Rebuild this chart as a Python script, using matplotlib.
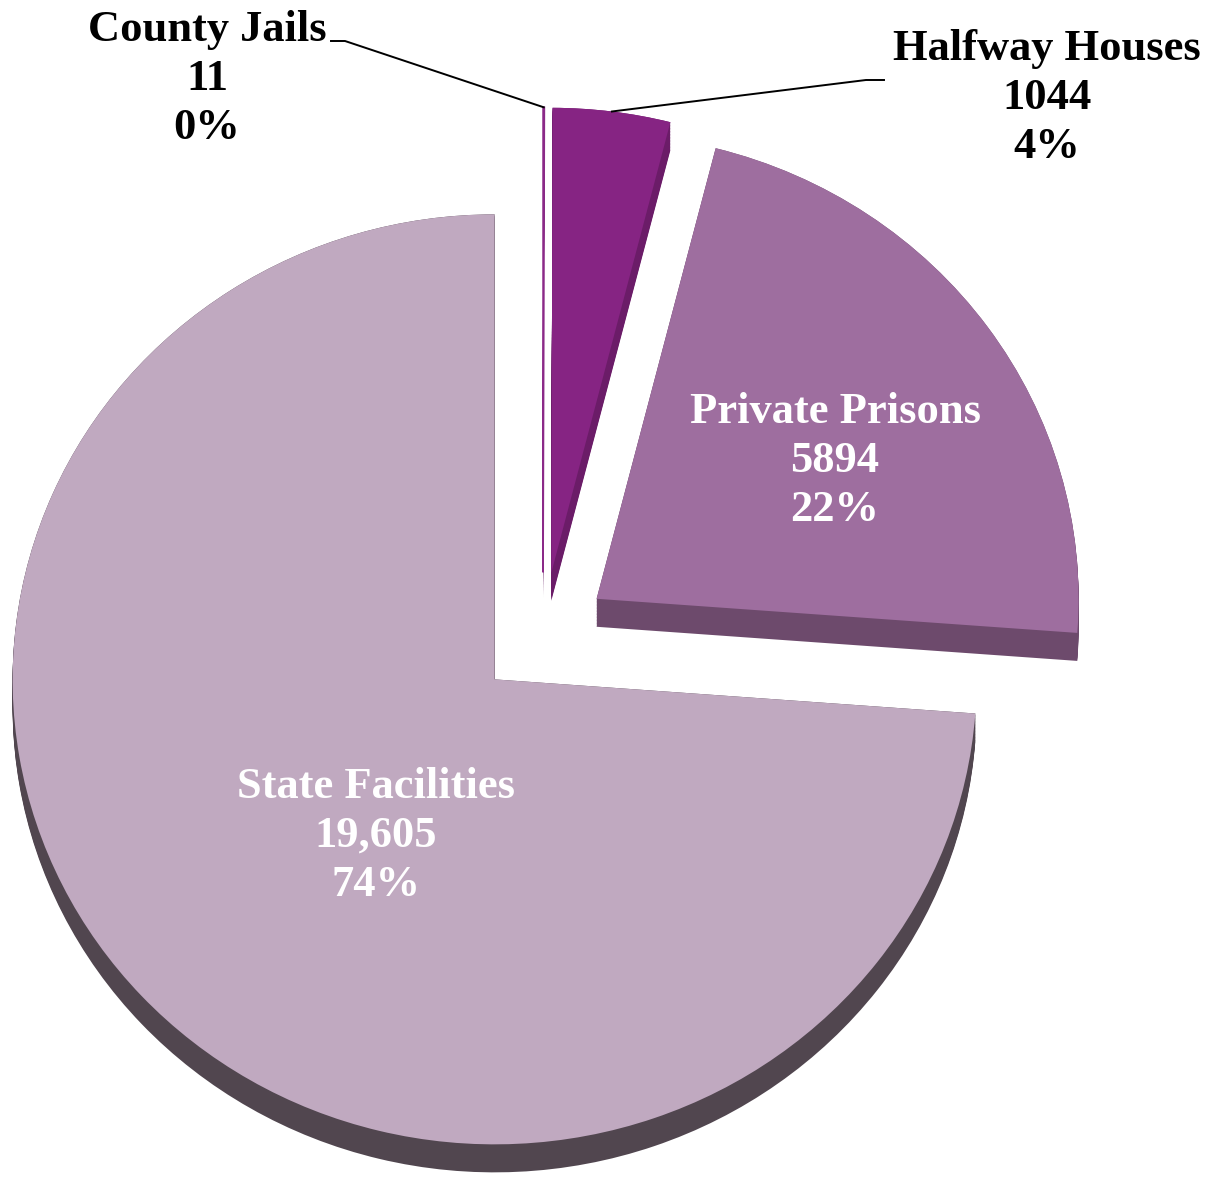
import numpy as np
import matplotlib.pyplot as plt

categories = ["County Jails", "Halfway Houses", "Private Prisons", "State Facilities"]
counts = [11, 1044, 5894, 19605]
count_labels = ["11", "1044", "5894", "19,605"]
pct_labels = ["0%", "4%", "22%", "74%"]

top_colors = ["#8B2A88", "#862483", "#9E6E9F", "#C0A9C0"]
side_colors = ["#6A1E66", "#6B1C68", "#6D4A6C", "#51464F"]

W, H = 1217, 1179
cx, cy = 543, 636      # pie centre (px)
rx, ry = 482, 465      # pie looks a bit squashed (3d tilt)
depth = 28 / ry
explode = [0.137] * 4

plt.rcParams["font.family"] = ["Liberation Serif", "DejaVu Serif"]

fig = plt.figure(figsize=(W / 100, H / 100), dpi=100)
ax = fig.add_axes([0, 0, 1, 1])


def px(x, y):
    return (x - cx) / rx, (cy - y) / ry


# extruded side: stack of darker pies shifted down
for d in np.linspace(depth, 0, 20):
    ax.pie(counts, explode=explode, colors=side_colors, startangle=90,
           counterclock=False, center=(0, -d), wedgeprops=dict(linewidth=0))

wedges, _ = ax.pie(counts, explode=explode, colors=top_colors, startangle=90,
                   counterclock=False, wedgeprops=dict(linewidth=0))
wedges[0].set_edgecolor(top_colors[0])
wedges[0].set_linewidth(1.2)

ax.set_aspect("auto")
ax.set_xlim(-cx / rx, (W - cx) / rx)
ax.set_ylim((cy - H) / ry, cy / ry)
ax.axis("off")

# labels
total = sum(counts)
fracs = np.array(counts) / total
starts = np.concatenate([[0], np.cumsum(fracs)[:-1]]) * 360
mids = np.radians(starts + fracs * 180)

label_pos = [(207, 79), (1047, 98), (835, 461), (376, 836)]
label_col = ["black", "black", "white", "white"]
for i in range(4):
    txt = f"{categories[i]}\n{count_labels[i]}\n{pct_labels[i]}"
    ax.text(*px(*label_pos[i]), txt, ha="center", va="center", color=label_col[i],
            fontsize=32, fontweight="bold", linespacing=1.28)

# leader lines for the two small slices
elbows = {0: [(345, 41), (331, 41)], 1: [(866, 80), (884, 80)]}
for i, pts in elbows.items():
    r = 1 + explode[i]
    x0, y0 = r * np.sin(mids[i]), r * np.cos(mids[i])
    xs = [x0] + [px(*p)[0] for p in pts]
    ys = [y0] + [px(*p)[1] for p in pts]
    ax.plot(xs, ys, color="black", lw=1.4)

plt.savefig("out.png", dpi=100)
